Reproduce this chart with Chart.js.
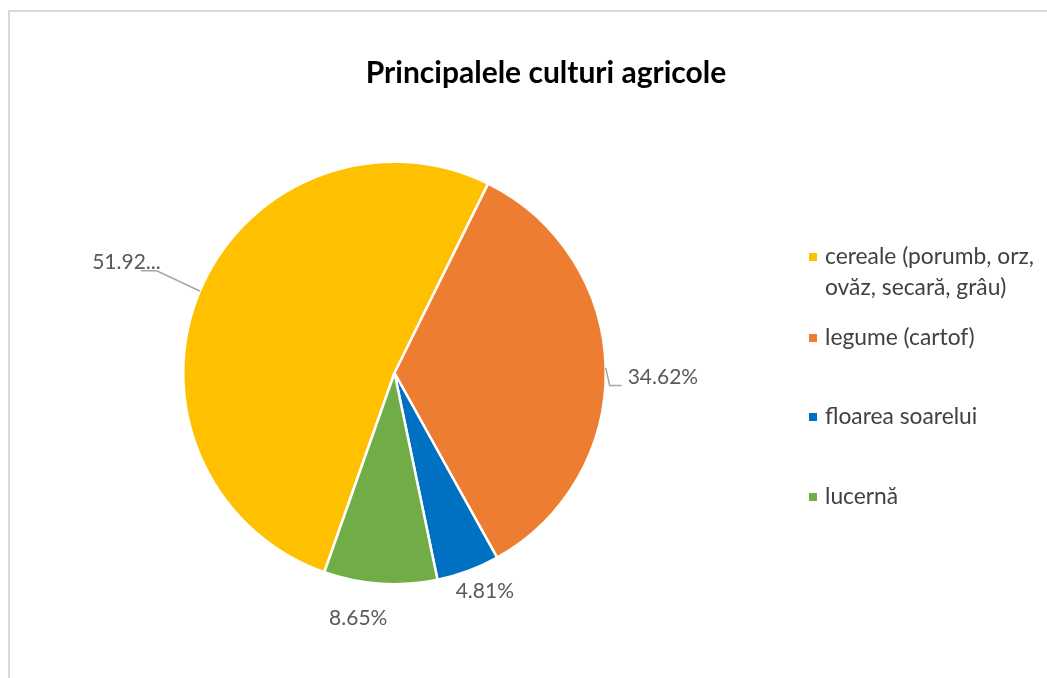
<!DOCTYPE html>
<html>
<head>
<meta charset="utf-8">
<script src="https://cdn.jsdelivr.net/npm/chart.js@4.4.0/dist/chart.umd.min.js"></script>
<style>
  html, body { margin: 0; padding: 0; background: #ffffff; }
  #wrap { position: relative; width: 1047px; height: 678px; overflow: hidden; }
  #frame { position: absolute; left: 8px; top: 10px; width: 1100px; height: 700px;
           border-left: 2px solid #d9d9d9; border-top: 2px solid #d9d9d9; }
  canvas { position: absolute; left: 0; top: 0; }
</style>
</head>
<body>
<div id="wrap">
  <div id="frame"></div>
  <canvas id="c" width="1047" height="678"></canvas>
</div>
<script>
// ---- data ----
const chartTitle = 'Principalele culturi agricole';
const categories = [
  ['cereale (porumb, orz,', 'ovăz, secară, grâu)'],
  ['legume (cartof)'],
  ['floarea soarelui'],
  ['lucernă']
];
const values = [51.92, 34.62, 4.81, 8.65];
const colors = ['#FFC000', '#ED7D31', '#0070C0', '#70AD47'];
const truncatedLabel = [true, false, false, false];

// ---- label placement (style, not data) ----
const labelStyle = [
  { dist: 75, dx: 30, dy: 0, align: 'right', leader: true },
  { dist: 22, dx: 0, dy: 10, align: 'left', leader: true },
  { dist: 22, dx: 9, dy: 0, align: 'center', leader: false },
  { dist: 32, dx: -20, dy: 3, align: 'center', leader: false }
];

const FONT = 'Lato, "Open Sans", sans-serif';

const overlay = {
  id: 'overlay',
  afterDraw(chart) {
    const ctx = chart.ctx;
    ctx.save();
    // title
    ctx.fillStyle = '#000000';
    ctx.font = 'bold 30px ' + FONT;
    ctx.textAlign = 'center';
    ctx.textBaseline = 'middle';
    ctx.fillText(chartTitle, 546, 73);

    // legend
    ctx.font = '22.8px ' + FONT;
    ctx.textAlign = 'left';
    const legendY = [257, 338, 417, 497];
    categories.forEach((lines, i) => {
      ctx.fillStyle = colors[i];
      ctx.fillRect(809, legendY[i] - 4, 8, 8);
      ctx.fillStyle = '#404040';
      lines.forEach((t, k) => ctx.fillText(t, 825, legendY[i] + k * 31));
    });

    // data labels
    const meta = chart.getDatasetMeta(0);
    ctx.font = '21px ' + FONT;
    ctx.textBaseline = 'middle';
    meta.data.forEach((arc, i) => {
      const p = arc.getProps(['x', 'y', 'startAngle', 'endAngle', 'outerRadius'], true);
      const mid = (p.startAngle + p.endAngle) / 2;
      const st = labelStyle[i];
      const ex = p.x + Math.cos(mid) * p.outerRadius;
      const ey = p.y + Math.sin(mid) * p.outerRadius;
      let lx = p.x + Math.cos(mid) * (p.outerRadius + st.dist) + st.dx;
      let ly = p.y + Math.sin(mid) * (p.outerRadius + st.dist) + st.dy;
      let txt = values[i].toFixed(2) + '%';
      if (truncatedLabel[i]) txt = txt.slice(0, 5) + '...';
      const w = ctx.measureText(txt).width;
      let left;
      if (st.align === 'right') left = lx - w;
      else if (st.align === 'left') left = lx;
      else left = lx - w / 2;
      if (st.leader) {
        ctx.strokeStyle = '#a6a6a6';
        ctx.lineWidth = 1.5;
        ctx.beginPath();
        ctx.moveTo(ex, ey);
        if (st.align === 'right') {
          const by = ly + 9;
          ctx.lineTo(lx - 4, by);
          ctx.lineTo(lx - 20, by);
        } else {
          const by = ly + 8;
          ctx.lineTo(lx - 18, by);
          ctx.lineTo(lx - 6, by);
        }
        ctx.stroke();
      }
      ctx.fillStyle = '#595959';
      ctx.textAlign = 'left';
      ctx.fillText(txt, left, ly);
    });
    ctx.restore();
  }
};

new Chart(document.getElementById('c'), {
  type: 'pie',
  data: {
    labels: categories.map(l => l.join(' ')),
    datasets: [{
      data: values,
      backgroundColor: colors,
      borderColor: '#ffffff',
      borderWidth: 2.5
    }]
  },
  options: {
    responsive: false,
    animation: false,
    rotation: 199.4,
    layout: { padding: { left: 182, right: 440, top: 160, bottom: 92 } },
    plugins: {
      legend: { display: false },
      title: { display: false },
      tooltip: { enabled: false }
    }
  },
  plugins: [overlay]
});
</script>
</body>
</html>
